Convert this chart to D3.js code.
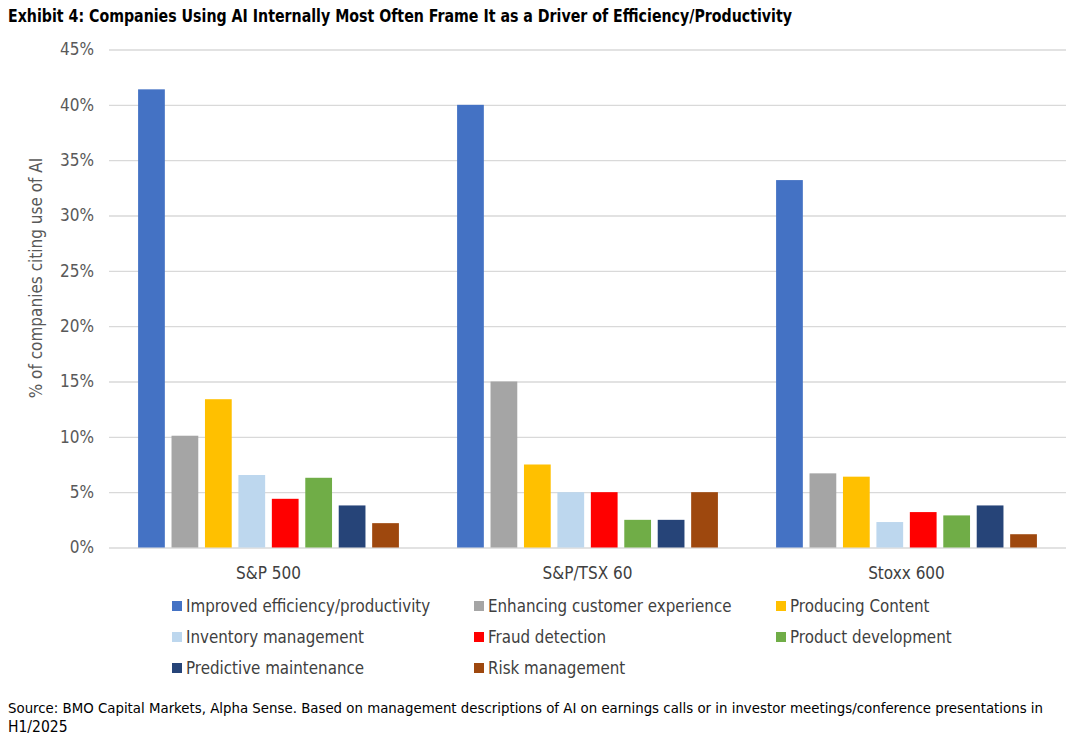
<!DOCTYPE html>
<html>
<head>
<meta charset="utf-8">
<script src="https://d3js.org/d3.v7.min.js"></script>
<style>
  body { margin: 0; background: #fff; }
  svg text { font-family: "Liberation Sans Narrow", "DejaVu Sans Condensed", "Roboto", sans-serif; }
  .grid line { stroke: #d9d9d9; stroke-width: 1.3px; }
  .grid path { display: none; }
</style>
</head>
<body>
<div id="viz"></div>
<script>
// ---- data ----
var indexes = ["S&P 500", "S&P/TSX 60", "Stoxx 600"];
var themes = ["Improved efficiency/productivity", "Enhancing customer experience", "Producing Content",
              "Inventory management", "Fraud detection", "Product development",
              "Predictive maintenance", "Risk management"];
var colors = ["#4472c4", "#a5a5a5", "#ffc000", "#bdd7ee", "#ff0000", "#70ad47", "#264478", "#9e480e"];
// one array per theme, values for S&P 500, S&P/TSX 60, Stoxx 600 (in %)
var efficiency  = [41.4, 40.0, 33.2];
var customer    = [10.1, 15.0, 6.7];
var content     = [13.4, 7.5, 6.4];
var inventory   = [6.55, 5.0, 2.3];
var fraud       = [4.4, 5.0, 3.2];
var product     = [6.3, 2.5, 2.9];
var maintenance = [3.8, 2.5, 3.8];
var risk        = [2.2, 5.0, 1.2];
var series = [efficiency, customer, content, inventory, fraud, product, maintenance, risk];
var yTicks = [0, 5, 10, 15, 20, 25, 30, 35, 40, 45];

var W = 1077, H = 737;
var plotLeft = 109, plotRight = 1066, plotTop = 49.5, plotBottom = 547.5;

var svg = d3.select("#viz").append("svg")
    .attr("width", W).attr("height", H);

// title
svg.append("text")
    .attr("x", 8).attr("y", 22)
    .attr("textLength", 784).attr("lengthAdjust", "spacingAndGlyphs")
    .style("font-size", "17px").style("font-weight", "bold").style("fill", "#000")
    .text("Exhibit 4: Companies Using AI Internally Most Often Frame It as a Driver of Efficiency/Productivity");

var y = d3.scaleLinear().domain([0, 45]).range([plotBottom, plotTop]);
var x0 = d3.scaleBand().domain(indexes).range([plotLeft, plotRight]).padding(0);
var x1 = d3.scaleBand().domain(d3.range(themes.length))
    .range([0, x0.bandwidth()]).paddingInner(0.2).paddingOuter(0.87);

// gridlines
svg.append("g").attr("class", "grid")
    .attr("transform", "translate(" + plotLeft + ",0)")
    .call(d3.axisRight(y).tickValues(yTicks).tickSize(plotRight - plotLeft).tickFormat(""));

// y labels
svg.append("g").selectAll("text").data(yTicks).enter().append("text")
    .attr("x", 94).attr("y", function(d) { return y(d); })
    .attr("dy", "0.35em").attr("text-anchor", "end")
    .style("font-size", "17px").style("fill", "#595959")
    .text(function(d) { return d + "%"; });

svg.append("text")
    .attr("transform", "translate(42,278) rotate(-90)")
    .attr("text-anchor", "middle")
    .style("font-size", "17px").style("fill", "#595959")
    .text("% of companies citing use of AI");

// bars
var groups = svg.append("g").selectAll("g").data(indexes).enter().append("g")
    .attr("transform", function(d) { return "translate(" + x0(d) + ",0)"; });

groups.selectAll("rect")
    .data(function(d, i) { return series.map(function(s, j) { return {k: j, v: s[i]}; }); })
    .enter().append("rect")
    .attr("x", function(d) { return x1(d.k); })
    .attr("width", x1.bandwidth())
    .attr("y", function(d) { return y(d.v); })
    .attr("height", function(d) { return y(0) - y(d.v); })
    .style("fill", function(d) { return colors[d.k]; });

// category labels
svg.append("g").selectAll("text").data(indexes).enter().append("text")
    .attr("x", function(d) { return x0(d) + x0.bandwidth() / 2; })
    .attr("y", 579)
    .attr("text-anchor", "middle")
    .style("font-size", "17px").style("fill", "#404040")
    .text(function(d) { return d; });

// legend (3 columns)
var colX = [175, 477, 779], rowY = [606, 637, 668];
var leg = svg.append("g").selectAll("g").data(themes).enter().append("g")
    .attr("transform", function(d, i) { return "translate(" + colX[i % 3] + "," + rowY[Math.floor(i / 3)] + ")"; });
leg.append("rect")
    .attr("x", -3).attr("y", -5).attr("width", 10).attr("height", 10)
    .style("fill", function(d, i) { return colors[i]; });
leg.append("text")
    .attr("x", 11).attr("dy", "0.35em")
    .style("font-size", "16.8px").style("fill", "#404040")
    .text(function(d) { return d; });

// source
svg.append("text")
    .attr("x", 8).attr("y", 713)
    .attr("textLength", 1035).attr("lengthAdjust", "spacingAndGlyphs")
    .style("font-size", "14.8px").style("fill", "#000")
    .text("Source: BMO Capital Markets, Alpha Sense. Based on management descriptions of AI on earnings calls or in investor meetings/conference presentations in");
svg.append("text")
    .attr("x", 8).attr("y", 732)
    .style("font-size", "15.5px").style("fill", "#000")
    .text("H1/2025");
</script>
</body>
</html>
